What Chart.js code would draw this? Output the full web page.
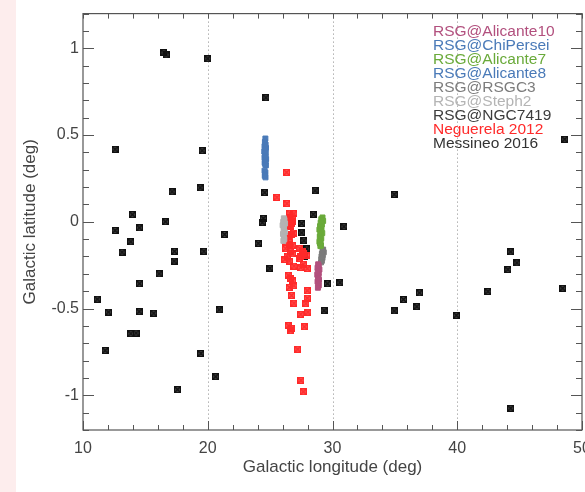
<!DOCTYPE html>
<html>
<head>
<meta charset="utf-8">
<script src="https://cdn.jsdelivr.net/npm/chart.js@4.4.1/dist/chart.umd.min.js"></script>
<style>
  html, body { margin: 0; padding: 0; background: #fff; overflow: hidden; }
  #wrap { position: relative; width: 585px; height: 492px; overflow: hidden; }
  #strip { position: absolute; left: 0; top: 0; width: 16px; height: 492px; background: #fdeded; }
  #cv { position: absolute; left: 0; top: 0; }
</style>
</head>
<body>
<div id="wrap">
  <div id="strip"></div>
  <canvas id="cv" width="600" height="492"></canvas>
</div>
<script>
// Galactic longitude / latitude of red supergiant candidates
// ---- DATA ----
const xTickLabels = [10, 20, 30, 40, 50];
const yTickLabels = [-1, -0.5, 0, 0.5, 1];
const xGridLines = [20, 30, 40];

const seriesNames = ['RSG@Alicante10', 'RSG@ChiPersei', 'RSG@Alicante7', 'RSG@Alicante8',
  'RSG@RSGC3', 'RSG@Steph2', 'RSG@NGC7419', 'Neguerela 2012', 'Messineo 2016'];
const seriesColors = ['#b2507e', '#4a7ab8', '#6aaa3a', '#4a7ab8',
  '#7c7c7c', '#b4b4b4', '#3c3c3c', '#ff2a2a', '#333333'];

const ali10Lon = [28.85, 28.9, 28.8, 28.95, 28.82, 28.9, 28.78, 28.88, 28.84, 28.92, 28.8, 28.86, 28.9, 28.83];
const ali10Lat = [-0.245, -0.255, -0.265, -0.275, -0.285, -0.295, -0.305, -0.315, -0.325, -0.335, -0.345, -0.355, -0.367, -0.38];

const chiPerLon = [];
const chiPerLat = [];

const ali7Lon = [29.2, 29.1, 29.25, 29.05, 29.15, 29.0, 29.12, 28.95, 29.08, 29.18, 29.02, 28.98, 29.1, 29.05, 28.95, 29.0, 29.08, 29.03];
const ali7Lat = [0.025, 0.015, 0.005, -0.005, -0.015, -0.025, -0.035, -0.045, -0.055, -0.065, -0.075, -0.085, -0.095, -0.105, -0.115, -0.125, -0.135, -0.14];

const ali8Lon = [24.62, 24.58, 24.64, 24.55, 24.67, 24.6, 24.53, 24.65, 24.58, 24.62, 24.55, 24.68, 24.6, 24.64, 24.56, 24.61, 24.66, 24.55, 24.62, 24.59, 24.57, 24.63];
const ali8Lat = [0.48, 0.46, 0.445, 0.435, 0.425, 0.415, 0.405, 0.395, 0.385, 0.378, 0.37, 0.362, 0.355, 0.347, 0.34, 0.332, 0.325, 0.295, 0.285, 0.275, 0.265, 0.256];

const rsgc3Lon = [29.25, 29.2, 29.3, 29.15, 29.22, 29.12, 29.2, 29.1, 29.15, 29.08];
const rsgc3Lat = [-0.16, -0.168, -0.176, -0.184, -0.192, -0.2, -0.208, -0.216, -0.225, -0.234];

const steph2Lon = [26.1, 26.15, 26.05, 26.2, 26.0, 26.12, 26.08, 26.18, 26.03, 26.1, 26.14, 26.06];
const steph2Lat = [0.02, 0.01, 0.0, -0.01, -0.02, -0.03, -0.045, -0.06, -0.07, -0.085, -0.1, -0.11];

const ngcLon = [];
const ngcLat = [];

const negLon = [26.32, 25.55, 26.35, 26.59, 26.91, 26.54, 26.8, 26.72,
  26.59, 26.78, 26.54, 26.67, 26.86, 26.46, 26.72, 26.59, 26.27, 26.54, 26.8, 26.24, 26.64, 26.8, 26.38, 26.19, 26.54,
  27.39, 27.61, 27.47, 27.34, 27.66, 27.93, 26.91, 27.45, 27.66, 27.98, 26.46, 26.64, 26.8, 26.54, 26.91, 27.98,
  26.72, 27.98, 26.91, 27.87, 27.45, 28.03, 26.46, 26.72, 26.64, 27.74, 27.21, 27.47, 27.66];
const negLat = [0.285, 0.141, 0.105, 0.05, 0.046, 0.027, 0.018, -0.007,
  0.016, 0.001, -0.022, -0.027, -0.065, -0.084, -0.075, -0.097, -0.116, -0.128, -0.135, -0.154, -0.169, -0.185, -0.198, -0.217, -0.226,
  -0.154, -0.169, -0.198, -0.211, -0.185, -0.192, -0.255, -0.264, -0.245, -0.27, -0.308, -0.327, -0.34, -0.378, -0.368, -0.397,
  -0.425, -0.44, -0.469, -0.472, -0.533, -0.52, -0.599, -0.614, -0.628, -0.605, -0.734, -0.914, -0.98];

const mesLon = [16.49, 16.66, 20.0, 12.57, 19.55, 19.39, 17.14, 13.96, 16.61, 12.57, 14.52, 21.35, 13.83, 13.13, 17.33,
  19.69, 17.3, 16.1, 14.53, 11.15, 12.04, 14.5, 15.67, 20.92, 13.83, 14.25, 11.77, 19.45, 20.63, 17.58,
  24.66, 24.56, 28.6, 28.46, 24.45, 24.37, 27.53, 30.92, 27.53, 24.05, 27.71, 27.93, 27.74, 24.98, 29.6, 30.6, 29.32,
  48.61, 34.94, 44.28, 44.78, 44.06, 42.46, 48.45, 36.97, 35.69, 36.76, 34.94, 39.92, 44.28];
const mesLat = [0.974, 0.962, 0.94, 0.418, 0.41, 0.196, 0.173, 0.041, 0.0, -0.05, -0.035, -0.073, -0.115, -0.175, -0.17,
  -0.17, -0.226, -0.3, -0.357, -0.446, -0.52, -0.518, -0.527, -0.507, -0.645, -0.641, -0.742, -0.759, -0.893, -0.967,
  0.715, 0.168, 0.179, 0.043, 0.02, -0.005, -0.01, -0.028, -0.064, -0.124, -0.109, -0.156, -0.2, -0.268, -0.357, -0.351, -0.512,
  0.476, 0.158, -0.173, -0.237, -0.275, -0.402, -0.383, -0.41, -0.448, -0.489, -0.514, -0.539, -1.075];

const seriesLon = [ali10Lon, chiPerLon, ali7Lon, ali8Lon, rsgc3Lon, steph2Lon, ngcLon, negLon, mesLon];
const seriesLat = [ali10Lat, chiPerLat, ali7Lat, ali8Lat, rsgc3Lat, steph2Lat, ngcLat, negLat, mesLat];
const seriesRadius = [3.5, 3.5, 3.5, 3.5, 3.5, 3.5, 3.5, 4, 4];

function toPoints(lon, lat){
  let pts = [];
  for (let i = 0; i < lon.length; i++) {
    pts.push({x: lon[i], y: lat[i]});
  }
  return pts;
}

// small "boxed x" marker, like the IDL symbol in the original
function makeMarker(color){
  const c = document.createElement('canvas');
  c.width = 7; c.height = 7;
  const g = c.getContext('2d');
  g.globalAlpha = 0.8;
  g.fillStyle = color;
  g.fillRect(0, 0, 7, 7);
  g.globalAlpha = 1;
  g.strokeStyle = color;
  g.lineWidth = 1;
  g.strokeRect(0.5, 0.5, 6, 6);
  g.lineWidth = 1.4;
  g.beginPath();
  g.moveTo(1, 1); g.lineTo(6, 6);
  g.moveTo(6, 1); g.lineTo(1, 6);
  g.stroke();
  return c;
}

let datasets = [];
for (let i = 0; i < seriesNames.length; i++) {
  const boxed = i >= 7;
  datasets.push({
    label: seriesNames[i],
    data: toPoints(seriesLon[i], seriesLat[i]),
    pointStyle: boxed ? makeMarker(i == 8 ? '#111111' : seriesColors[i]) : 'rect',
    pointRadius: seriesRadius[i],
    pointBorderWidth: 1,
    backgroundColor: seriesColors[i],
    borderColor: seriesColors[i],
  });
}
// draw order: Messineo and Neguerela below the clusters
datasets[7].order = 2;
datasets[8].order = 3;

const axisColor = '#555555';
const textColor = '#444444';
const fontFam = '"Liberation Sans", Arial, sans-serif';

//---- frame, inward ticks, dotted grid and text legend
const framePlugin = {
  id: 'frame',
  beforeDatasetsDraw(chart){
    const ctx = chart.ctx;
    const a = chart.chartArea;
    const xs = chart.scales.x;
    ctx.save();
    ctx.strokeStyle = '#8a8a8a';
    ctx.lineWidth = 1;
    ctx.setLineDash([1, 3]);
    xGridLines.forEach(v => {
      const px = Math.round(xs.getPixelForValue(v)) + 0.5;
      ctx.beginPath();
      ctx.moveTo(px, a.top);
      ctx.lineTo(px, a.bottom);
      ctx.stroke();
    });
    ctx.restore();
  },
  afterDatasetsDraw(chart){
    const ctx = chart.ctx;
    const a = chart.chartArea;
    const xs = chart.scales.x;
    const ys = chart.scales.y;
    ctx.save();
    ctx.strokeStyle = axisColor;
    ctx.lineWidth = 1.2;
    ctx.strokeRect(a.left, a.top, a.right - a.left, a.bottom - a.top);
    ctx.lineWidth = 1;
    // x ticks every 2 deg, top and bottom
    for (let v = 10; v <= 50; v += 2) {
      const px = Math.round(xs.getPixelForValue(v)) + 0.5;
      const len = (v % 10 === 0) ? 9 : 5;
      ctx.beginPath();
      ctx.moveTo(px, a.bottom); ctx.lineTo(px, a.bottom - len);
      ctx.moveTo(px, a.top); ctx.lineTo(px, a.top + 5);
      ctx.stroke();
    }
    // y ticks every 0.1 deg, left and right
    for (let k = -12; k <= 12; k++) {
      const py = Math.round(ys.getPixelForValue(k / 10)) + 0.5;
      const len = (k % 5 === 0) ? 11 : 6;
      ctx.beginPath();
      ctx.moveTo(a.left, py); ctx.lineTo(a.left + len, py);
      ctx.moveTo(a.right, py); ctx.lineTo(a.right - len, py);
      ctx.stroke();
    }
    // legend as coloured text
    ctx.font = '15.5px ' + fontFam;
    ctx.textBaseline = 'middle';
    ctx.textAlign = 'left';
    chart.data.datasets.forEach((ds, i) => {
      ctx.fillStyle = seriesColors[i];
      ctx.fillText(ds.label, 433, 32 + i * 14);
    });
    ctx.restore();
  }
};

const ctx = document.getElementById('cv').getContext('2d');
let chart1 = new Chart(ctx, {
  type: 'scatter',
  data: { datasets: datasets },
  plugins: [framePlugin],
  options: {
    responsive: false,
    animation: false,
    layout: { padding: { top: 8, right: 18, bottom: 0, left: 0 } },
    plugins: { legend: { display: false }, tooltip: { enabled: false } },
    scales: {
      x: {
        type: 'linear', min: 10, max: 50,
        afterBuildTicks: s => { s.ticks = xTickLabels.map(v => ({value: v})); },
        afterFit: s => { s.height = 62; },
        grid: { display: false, drawTicks: false },
        border: { display: false },
        ticks: { color: textColor, padding: 9, maxRotation: 0,
          font: { family: fontFam, size: 16 } },
        title: { display: true, text: 'Galactic longitude (deg)', color: textColor,
          padding: { top: 0, bottom: 14 },
          font: { family: fontFam, size: 17 } }
      },
      y: {
        type: 'linear', min: -1.2, max: 1.2,
        afterBuildTicks: s => { s.ticks = yTickLabels.map(v => ({value: v})); },
        afterFit: s => { s.width = 83; },
        grid: { display: false, drawTicks: false },
        border: { display: false },
        ticks: { color: textColor, padding: 4, callback: v => String(v),
          font: { family: fontFam, size: 16 } },
        title: { display: true, text: 'Galactic latitude (deg)', color: textColor,
          padding: { top: 20, bottom: 0 },
          font: { family: fontFam, size: 17 } }
      }
    }
  }
});
</script>
</body>
</html>
